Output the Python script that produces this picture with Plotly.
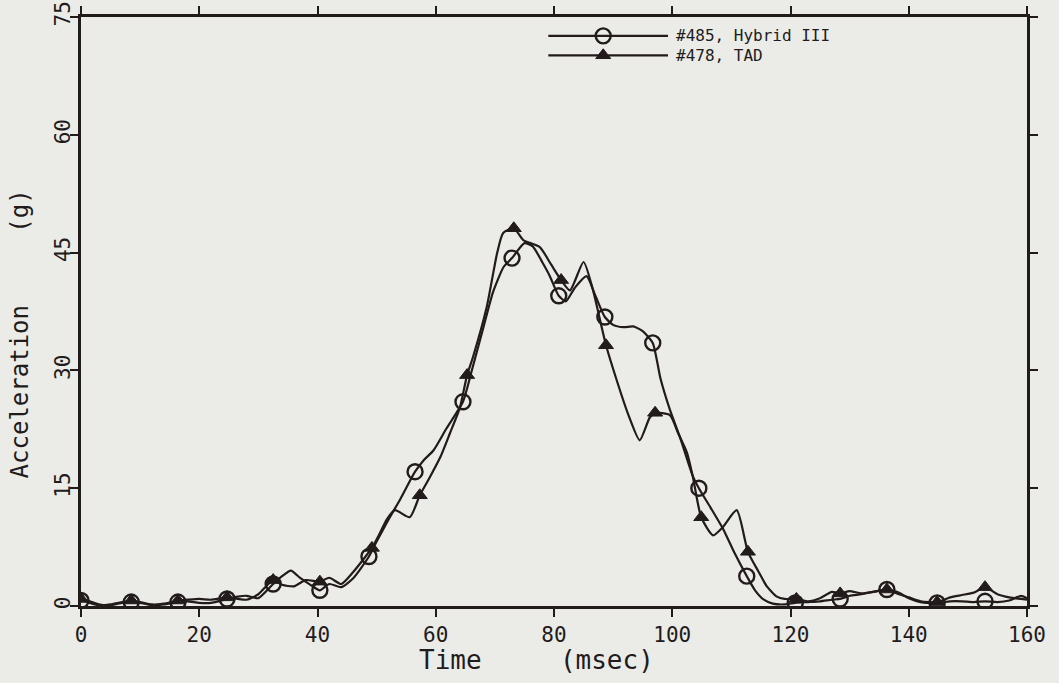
import plotly.graph_objects as go

# ---------------- data ----------------
# #485, Hybrid III  (open circles)
hyb_t = [0, 1.5, 3, 5, 7, 8.5, 10, 12, 14, 16.4, 18, 20, 22, 24.7, 26.5, 28, 30, 32.5, 34, 35.5,
         37, 39, 40.4, 42, 44, 46, 48.7, 50, 52, 54, 56.5, 58, 59.6, 61.8, 64.6, 66.1, 68, 69.7,
         71.5, 72.9, 75, 76.4, 78, 79.3, 80.8, 82, 83.5, 85.5, 87, 88.6, 90, 91.8, 93.4, 95, 96.7,
         98, 99.6, 101.3, 103.5, 104.5, 106.5, 108.6, 110.5, 112.6, 114, 115.5, 117, 119, 120.8,
         123, 125, 127, 128.4, 130, 132, 134, 136.3, 138, 140, 142, 144.8, 147, 149, 151, 152.9,
         155, 157, 159, 160]
hyb_g = [0.7, 0.6, 0.2, 0.1, 0.4, 0.5, 0.4, 0.1, 0.2, 0.5, 0.6, 0.4, 0.4, 0.9, 1.2, 1.3, 1.0, 2.8, 3.8, 4.5,
         3.6, 2.6, 2.0, 2.8, 2.4, 3.5, 6.3, 8.2, 11.0, 13.6, 17.1, 18.6, 19.8, 22.6, 26.0, 30.0, 35.3, 40.0,
         43.2, 44.3, 46.2, 45.8, 43.8, 42.0, 39.5, 38.8, 40.5, 42.0, 39.5, 36.8, 35.8, 35.5, 35.6, 35.0, 33.5,
         29.0, 25.0, 21.5, 16.5, 15.0, 12.5, 9.8, 6.8, 3.8, 2.0, 0.8, 0.3, 0.2, 0.4,
         0.5, 0.6, 0.8, 0.9, 1.3, 1.5, 1.8, 2.1, 1.8, 1.0, 0.5, 0.4, 0.6, 0.6, 0.5, 0.6,
         0.5, 0.7, 1.3, 1.0]
hyb_marker_t = [0, 8.5, 16.4, 24.7, 32.5, 40.4, 48.7, 56.5, 64.6, 72.9, 80.8, 88.6, 96.7, 104.5,
                112.6, 120.8, 128.4, 136.3, 144.8, 152.9]

# #478, TAD  (filled triangles)
tad_t = [0, 1.5, 3, 5, 7, 8.5, 10, 12, 14, 16.4, 18, 20, 22, 24.7, 26.5, 28, 30, 32.5, 34, 36, 38,
         40.4, 42, 44, 46, 49.2, 50.5, 51.7, 53.1, 55.6, 57.3, 59, 60.8, 62.4, 64.1, 65.3, 66.3, 68.6,
         70.4, 71.4, 73.2, 74.8, 77.6, 79.5, 81.2, 82.7, 85, 86.5, 88.8, 90.5, 92.5, 94.5, 96.2, 97.1,
         99.6, 101, 102.5, 103.5, 104.9, 106.9, 108.5, 110.9, 112.8, 114.5, 116, 117.7, 119, 121, 123,
         125, 127, 128.4, 130, 132, 134, 136.3, 138, 140, 142, 144.8, 147, 149, 151, 152.9, 155, 157,
         159, 160]
tad_g = [0.9, 0.4, 0.1, 0.2, 0.5, 0.7, 0.5, 0.2, 0.3, 0.7, 0.8, 0.9, 0.8, 1.1, 0.9, 0.8, 1.5, 3.3, 2.7, 2.5, 3.3,
         3.1, 3.6, 2.8, 4.3, 7.4, 9.2, 11.0, 12.2, 11.3, 14.1, 16.4, 19.0, 22.0, 25.3, 29.4, 31.7, 38.0,
         45.0, 47.5, 48.1, 46.6, 45.7, 43.5, 41.5, 40.2, 43.8, 40.5, 33.2, 29.0, 24.5, 21.1, 24.0, 24.6,
         24.3, 22.0, 19.5, 16.4, 11.3, 9.0, 10.0, 12.2, 6.9, 4.5, 2.5, 1.2, 0.9, 0.9, 0.6,
         1.0, 1.8, 1.6, 1.9, 1.6, 1.8, 2.1, 1.6, 1.1, 0.6, 0.5, 1.1, 1.4, 1.7, 2.4, 1.5, 1.1,
         0.9, 0.8]
tad_marker_t = [0, 8.5, 16.4, 24.7, 32.5, 40.4, 49.2, 57.3, 65.3, 73.2, 81.2, 88.8, 97.1, 104.9,
                112.8, 121, 128.4, 136.3, 144.8, 152.9]

series_names = ["#485, Hybrid III", "#478, TAD"]
x_ticks = [0, 20, 40, 60, 80, 100, 120, 140, 160]
y_ticks = [0, 15, 30, 45, 60, 75]

# ---------------- style ----------------
INK = "#221b1b"
BG = "#ebebe8"
FONT = "DejaVu Sans Mono"

hyb_lookup = dict(zip(hyb_t, hyb_g))
tad_lookup = dict(zip(tad_t, tad_g))

fig = go.Figure()

line_style = dict(color=INK, width=2.2, shape="spline", smoothing=0.6)
fig.add_trace(go.Scatter(x=hyb_t, y=hyb_g, mode="lines", line=line_style, showlegend=False, hoverinfo="skip"))
fig.add_trace(go.Scatter(x=tad_t, y=tad_g, mode="lines", line=line_style, showlegend=False, hoverinfo="skip"))

circle_marker = dict(symbol="circle-open", size=15, color=INK, line=dict(width=2.4, color=INK))
tri_marker = dict(symbol="triangle-up", size=13, color=INK, line=dict(width=1, color=INK))
fig.add_trace(go.Scatter(x=hyb_marker_t, y=[hyb_lookup[t] for t in hyb_marker_t], mode="markers",
                         marker=circle_marker, name=series_names[0], showlegend=False))
fig.add_trace(go.Scatter(x=tad_marker_t, y=[tad_lookup[t] for t in tad_marker_t], mode="markers",
                         marker=tri_marker, name=series_names[1], showlegend=False))

# ---------------- custom legend (overlay axes in plot-fraction units) ----------------
leg_x0, leg_xm, leg_x1 = 0.494, 0.552, 0.6205
leg_rows = [0.968, 0.935]
for row_y, sym, name in zip(leg_rows, [circle_marker, tri_marker], series_names):
    fig.add_trace(go.Scatter(x=[leg_x0, leg_x1], y=[row_y, row_y], mode="lines",
                             line=dict(color=INK, width=2.2), xaxis="x2", yaxis="y2",
                             showlegend=False, hoverinfo="skip"))
    fig.add_trace(go.Scatter(x=[leg_xm], y=[row_y], mode="markers", marker=sym,
                             xaxis="x2", yaxis="y2", showlegend=False, hoverinfo="skip"))
    fig.add_annotation(x=0.627, y=row_y, xref="paper", yref="paper", text=name, showarrow=False,
                       xanchor="left", yanchor="middle", font=dict(family=FONT, size=16, color=INK))

axis_common = dict(showgrid=False, zeroline=False, showline=True, linecolor=INK, linewidth=2.5,
                   ticks="outside", ticklen=8, tickwidth=2, tickcolor=INK, mirror="ticks",
                   automargin=False, tickfont=dict(family=FONT, size=21, color=INK))

fig.update_layout(
    width=1059, height=683,
    margin=dict(l=81, r=32, t=17, b=77, autoexpand=False),
    paper_bgcolor=BG, plot_bgcolor=BG,
    xaxis=dict(range=[0, 160], tickvals=x_ticks, ticktext=[str(v) for v in x_ticks], **axis_common),
    yaxis=dict(range=[0, 75], tickvals=y_ticks, ticktext=[str(v) for v in y_ticks], tickangle=-90,
               ticklabelstandoff=-8, **axis_common),
    xaxis2=dict(range=[0, 1], overlaying="x", visible=False, fixedrange=True),
    yaxis2=dict(range=[0, 1], overlaying="y", visible=False, fixedrange=True),
    showlegend=False,
)

# axis titles as annotations (placed like the reference)
fig.add_annotation(x=0.482, y=-0.092, xref="paper", yref="paper",
                   text="Time\u00a0\u00a0\u00a0\u00a0\u00a0(msec)", showarrow=False,
                   xanchor="center", yanchor="middle", font=dict(family=FONT, size=26, color=INK))
fig.add_annotation(x=-0.065, y=0.462, xref="paper", yref="paper",
                   text="Acceleration\u00a0\u00a0\u00a0\u00a0\u00a0(g)", showarrow=False, textangle=-90,
                   xanchor="center", yanchor="middle", font=dict(family=FONT, size=24, color=INK))

fig.write_html("out.html")
